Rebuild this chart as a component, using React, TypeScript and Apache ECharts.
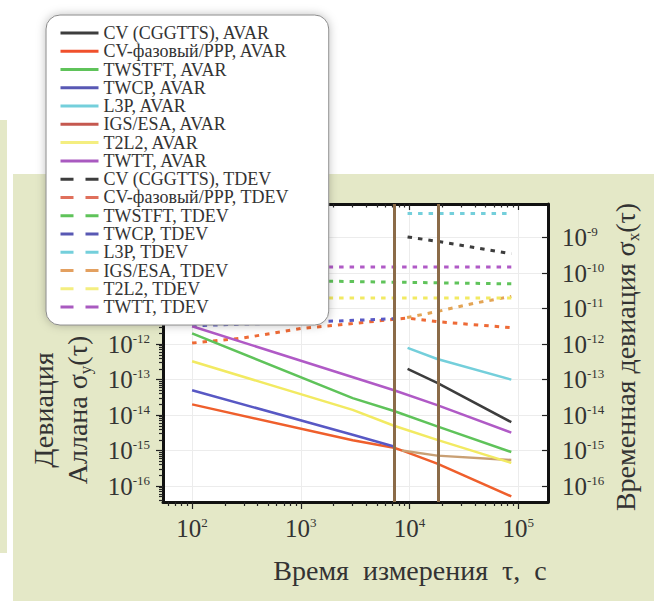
import React, { useEffect, useRef } from 'react';
import * as echarts from 'echarts';

const FONT = 'Liberation Serif';

// ---- axis extents (real units) ----
const TAU_MIN = 54;
const TAU_MAX = 188000;
const SIG_MIN = 3.55e-17;
const SIG_MAX = 8.9e-9;
const X_TICKS = [1e2, 1e3, 1e4, 1e5];
const Y_TICKS = [1e-16, 1e-15, 1e-14, 1e-13, 1e-12, 1e-11, 1e-10, 1e-9];
const Y_TICKS_LEFT_LABELS = [1e-16, 1e-15, 1e-14, 1e-13, 1e-12];
const MARKER_TAU = [7200, 18000];

// ---- data (tau in s, deviation values) ----
const TAU_CGGTTS = [9600, 18000, 86400];
const CGGTTS_AVAR = [2.0e-13, 8.1e-14, 6.3e-15];
const CGGTTS_TDEV = [1.05e-9, 7.9e-10, 3.5e-10];

const TAU_CVPPP = [100, 3000, 7200, 9000, 18000, 86400];
const CVPPP_AVAR = [2.0e-14, 1.95e-15, 1.2e-15, 9.5e-16, 4.3e-16, 5.1e-17];
const TAU_CVPPP_TDEV = [100, 300, 1000, 3000, 7200, 9500, 18000, 86400];
const CVPPP_TDEV = [1.07e-12, 1.5e-12, 2.75e-12, 3.8e-12, 5.0e-12, 5.4e-12, 4.3e-12, 2.9e-12];

const TAU_TWSTFT = [100, 3000, 7200, 18000, 86400];
const TWSTFT_AVAR = [2.0e-12, 3.0e-14, 1.3e-14, 4.8e-15, 9.1e-16];
const TAU_TWSTFT_TDEV = [100, 2000, 86400];
const TWSTFT_TDEV = [6.5e-11, 5.9e-11, 5.0e-11];

const TAU_TWCP = [100, 3000, 7200];
const TWCP_AVAR = [5.0e-14, 2.8e-15, 1.3e-15];
const TAU_TWCP_TDEV = [100, 1000, 7200];
const TWCP_TDEV = [3.3e-12, 4.1e-12, 5.2e-12];

const TAU_L3P = [9600, 18000, 86400];
const L3P_AVAR = [7.8e-13, 3.8e-13, 1.0e-13];
const TAU_L3P_TDEV = [9600, 86400];
const L3P_TDEV = [4.8e-9, 4.8e-9];

const TAU_IGS = [8500, 18000, 86400];
const IGS_AVAR = [1.0e-15, 7.2e-16, 5.4e-16];
const TAU_IGS_TDEV = [9500, 18000, 38500, 86400];
const IGS_TDEV = [5.6e-12, 8.3e-12, 1.4e-11, 2.2e-11];

const TAU_T2L2 = [100, 3000, 7200, 18000, 86400];
const T2L2_AVAR = [3.3e-13, 1.4e-14, 5.0e-15, 2.0e-15, 4.5e-16];
const TAU_T2L2_TDEV = [100, 86400];
const T2L2_TDEV = [2.0e-11, 2.0e-11];

const TAU_TWTT = [100, 7200, 18000, 86400];
const TWTT_AVAR = [3.2e-12, 5.0e-14, 1.9e-14, 3.2e-15];
const TAU_TWTT_TDEV = [100, 86400];
const TWTT_TDEV = [1.5e-10, 1.5e-10];

const SERIES_NAMES = [
  'CV (CGGTTS), AVAR', 'CV-фазовый/PPP, AVAR', 'TWSTFT, AVAR', 'TWCP, AVAR',
  'L3P, AVAR', 'IGS/ESA, AVAR', 'T2L2, AVAR', 'TWTT, AVAR',
  'CV (CGGTTS), TDEV', 'CV-фазовый/PPP, TDEV', 'TWSTFT, TDEV', 'TWCP, TDEV',
  'L3P, TDEV', 'IGS/ESA, TDEV', 'T2L2, TDEV', 'TWTT, TDEV',
];

const LINE_COLORS = [
  '#3d3d3d', '#ef5f2c', '#5fc35a', '#5858c4', '#74cfdb', '#c9a074', '#f2ea62', '#b05ac6',
  '#3d3d3d', '#ee6a36', '#5fc35a', '#5858c4', '#74cfdb', '#e3a455', '#f2ea62', '#b05ac6',
];
const LEGEND_COLORS = [
  '#3d3d3d', '#f0502c', '#5fc35a', '#5858b4', '#74cfdb', '#c5584f', '#f4ee80', '#a95ac0',
  '#3d3d3d', '#e0705c', '#5fc35a', '#5858b4', '#74cfdb', '#e3a060', '#f4ee80', '#a95ac0',
];

const L = Math.log10;

function minorTicks(fromExp: number, toExp: number, lo: number, hi: number) {
  const out: number[] = [];
  for (let n = fromExp; n <= toExp; n++) {
    for (let k = 2; k <= 9; k++) {
      const v = L(k) + n;
      if (v > lo && v < hi) out.push(v);
    }
  }
  return out;
}

export default function App() {
  const ref = useRef<HTMLDivElement>(null);
  useEffect(() => {
    if (!ref.current) return;
    const chart = echarts.init(ref.current, undefined, { renderer: 'svg' });

    const xMin = L(TAU_MIN), xMax = L(TAU_MAX);
    const yMin = L(SIG_MIN), yMax = L(SIG_MAX);
    const xMajor = X_TICKS.map(L);
    const yMajor = Y_TICKS.map(L);
    const yLeftLabels = Y_TICKS_LEFT_LABELS.map(L);
    const xMinor = minorTicks(1, 5, xMin, xMax);
    const yMinor = minorTicks(-17, -9, yMin, yMax);

    const dataSets: [number[], number[]][] = [
      [TAU_CGGTTS, CGGTTS_AVAR], [TAU_CVPPP, CVPPP_AVAR], [TAU_TWSTFT, TWSTFT_AVAR], [TAU_TWCP, TWCP_AVAR],
      [TAU_L3P, L3P_AVAR], [TAU_IGS, IGS_AVAR], [TAU_T2L2, T2L2_AVAR], [TAU_TWTT, TWTT_AVAR],
      [TAU_CGGTTS, CGGTTS_TDEV], [TAU_CVPPP_TDEV, CVPPP_TDEV], [TAU_TWSTFT_TDEV, TWSTFT_TDEV], [TAU_TWCP_TDEV, TWCP_TDEV],
      [TAU_L3P_TDEV, L3P_TDEV], [TAU_IGS_TDEV, IGS_TDEV], [TAU_T2L2_TDEV, T2L2_TDEV], [TAU_TWTT_TDEV, TWTT_TDEV],
    ];

    const series: any[] = SERIES_NAMES.map((name, i) => {
      const [taus, vals] = dataSets[i];
      const dashed = i >= 8;
      return {
        name,
        type: 'line',
        symbol: 'none',
        showSymbol: false,
        silent: true,
        z: dashed ? 2 : 3,
        data: taus.map((t, j) => [L(t), L(vals[j])]),
        lineStyle: {
          color: LINE_COLORS[i],
          width: dashed ? 3 : 2.5,
          type: dashed ? [4.5, 6] : 'solid',
        },
        itemStyle: { color: LINE_COLORS[i] },
      };
    });
    series[0].markLine = {
      silent: true,
      symbol: ['none', 'none'],
      label: { show: false },
      lineStyle: { color: '#8b6b48', width: 3, type: 'solid' },
      data: MARKER_TAU.map((t) => ({ xAxis: L(t) })),
      z: 5,
    };

    const rich = {
      b: { fontFamily: FONT, fontSize: 25, color: '#333' },
      s: { fontFamily: FONT, fontSize: 13, color: '#333', verticalAlign: 'top' },
    };
    const fmt = (v: number) => `{b|10}{s|${Math.round(v)}}`;
    const frame = { show: true, onZero: false, lineStyle: { color: '#111', width: 3 } };
    const tickStyle = { color: '#222', width: 1.2 };

    const xBase = { type: 'value', min: xMin, max: xMax };
    const yBase = { type: 'value', min: yMin, max: yMax };

    const option: any = {
      animation: false,
      backgroundColor: 'transparent',
      textStyle: { fontFamily: FONT },
      grid: { left: 163, right: 106, top: 204, bottom: 99, show: true, backgroundColor: '#ffffff', borderWidth: 0 },
      legend: {
        orient: 'vertical',
        left: 46,
        top: 15,
        padding: [9, 40, 9, 13],
        itemWidth: 38,
        itemHeight: 12,
        itemGap: 0.27,
        backgroundColor: '#ffffff',
        borderColor: '#8a8a8a',
        borderWidth: 1,
        borderRadius: 14,
        shadowBlur: 10,
        shadowColor: 'rgba(0,0,0,0.25)',
        selectedMode: false,
        textStyle: { fontFamily: FONT, fontSize: 18, color: '#333333' },
        data: SERIES_NAMES.map((name, i) => ({
          name,
          lineStyle: { color: LEGEND_COLORS[i], width: 3, type: i >= 8 ? [13, 12] : 'solid' },
          itemStyle: { color: LEGEND_COLORS[i], opacity: 0 },
        })),
        z: 10,
      },
      xAxis: [
        {
          ...xBase, position: 'bottom',
          axisLine: frame,
          axisTick: { show: true, inside: false, length: 7, customValues: xMajor, lineStyle: tickStyle },
          axisLabel: { show: true, customValues: xMajor, formatter: fmt, rich, margin: 14 },
          splitLine: { show: true, lineStyle: { color: '#ececec', width: 1 } },
        },
        {
          ...xBase, position: 'bottom',
          axisLine: { show: false, onZero: false },
          axisTick: { show: true, inside: false, length: 4, customValues: xMinor, lineStyle: tickStyle },
          axisLabel: { show: false },
          splitLine: { show: false },
        },
        {
          ...xBase, position: 'top',
          axisLine: frame,
          axisTick: { show: true, inside: true, length: 6, customValues: xMajor, lineStyle: tickStyle },
          axisLabel: { show: false },
          splitLine: { show: false },
        },
        {
          ...xBase, position: 'top',
          axisLine: { show: false, onZero: false },
          axisTick: { show: true, inside: true, length: 3.5, customValues: xMinor, lineStyle: tickStyle },
          axisLabel: { show: false },
          splitLine: { show: false },
        },
      ],
      yAxis: [
        {
          ...yBase, position: 'left',
          axisLine: frame,
          axisTick: { show: true, inside: false, length: 7, customValues: yMajor, lineStyle: tickStyle },
          axisLabel: { show: true, customValues: yLeftLabels, formatter: fmt, rich, margin: 13 },
          splitLine: { show: true, lineStyle: { color: '#ececec', width: 1 } },
        },
        {
          ...yBase, position: 'left',
          axisLine: { show: false, onZero: false },
          axisTick: { show: true, inside: false, length: 4, customValues: yMinor, lineStyle: tickStyle },
          axisLabel: { show: false },
          splitLine: { show: false },
        },
        {
          ...yBase, position: 'right',
          axisLine: frame,
          axisTick: { show: true, inside: true, length: 6, customValues: yMajor, lineStyle: tickStyle },
          axisLabel: { show: true, customValues: yMajor, formatter: fmt, rich, margin: 14 },
          splitLine: { show: false },
        },
      ],
      graphic: [
        { type: 'rect', z: -100, silent: true, shape: { x: 13, y: 174, width: 641, height: 427 }, style: { fill: '#e4e8c7' } },
        { type: 'rect', z: -100, silent: true, shape: { x: 0, y: 120, width: 7, height: 433 }, style: { fill: '#e4e8c7' } },
        {
          type: 'text', x: 60, y: 410, rotation: Math.PI / 2, silent: true,
          style: {
            text: 'Девиация\nАллана σ{sub|y}(τ)',
            fontFamily: FONT, fontSize: 28, lineHeight: 34, fill: '#333',
            align: 'center', verticalAlign: 'middle',
            rich: { sub: { fontFamily: FONT, fontSize: 17, fill: '#333', verticalAlign: 'bottom', lineHeight: 34 } },
          },
        },
        {
          type: 'text', x: 625, y: 357, rotation: Math.PI / 2, silent: true,
          style: {
            text: 'Временная девиация σ{sub|x}(τ)',
            fontFamily: FONT, fontSize: 28, lineHeight: 34, fill: '#333',
            align: 'center', verticalAlign: 'middle',
            rich: { sub: { fontFamily: FONT, fontSize: 17, fill: '#333', verticalAlign: 'bottom', lineHeight: 34 } },
          },
        },
        {
          type: 'text', x: 410, y: 570, silent: true,
          style: {
            text: 'Время  измерения  τ,  с',
            fontFamily: FONT, fontSize: 28, fill: '#333',
            align: 'center', verticalAlign: 'middle',
          },
        },
      ],
      series,
    };

    chart.setOption(option);
    return () => chart.dispose();
  }, []);

  return (
    <div
      ref={ref}
      style={{ position: 'absolute', left: 0, top: 0, width: 654, height: 601, background: '#ffffff' }}
    />
  );
}
